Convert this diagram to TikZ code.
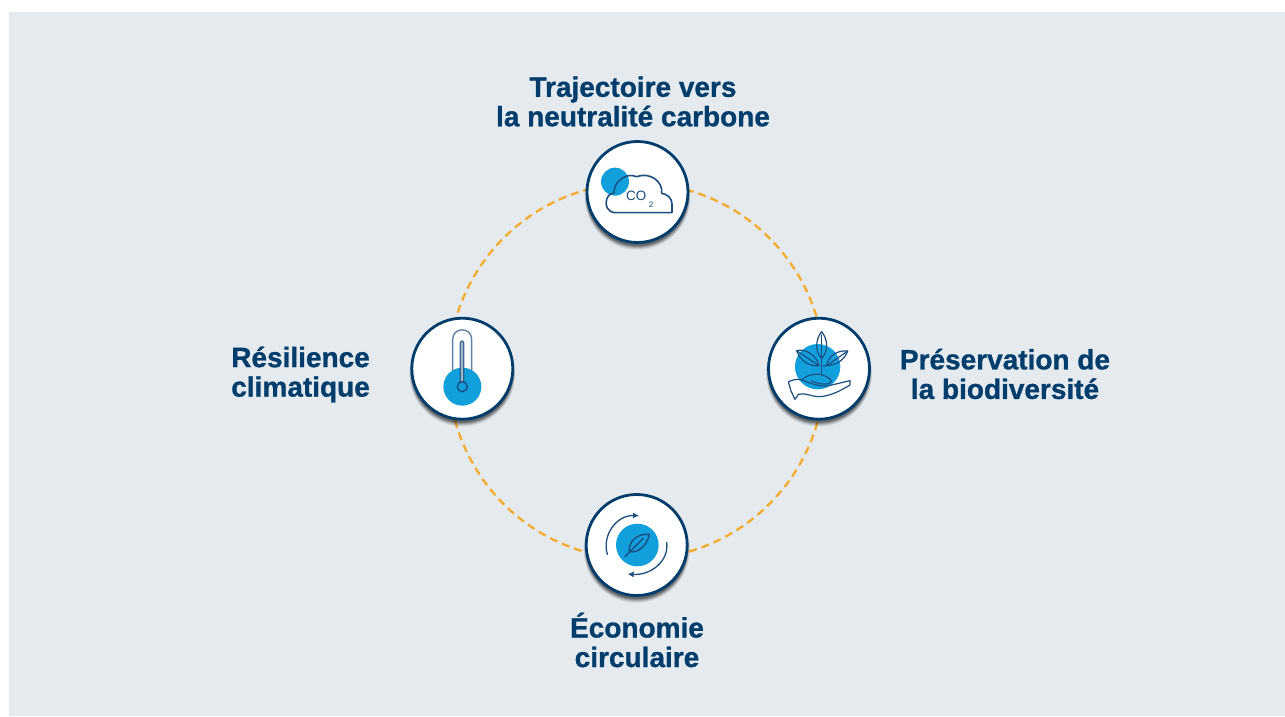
\documentclass[tikz,border=0pt]{standalone}
\usepackage{fontspec}
\setmainfont{Liberation Sans}[BoldFeatures={FakeBold=0.9}]
\usetikzlibrary{arrows.meta}
\definecolor{panelc}{HTML}{E5EAEF}
\definecolor{navy}{HTML}{003C6C}
\definecolor{skyb}{HTML}{12A0DC}
\definecolor{ringc}{HTML}{F5AE33}
\definecolor{inkc}{HTML}{1B4F80}
\tikzset{
  x=1pt,y=-1pt,
  badge/.style={circle,draw=navy,line width=2.8pt,fill=white,minimum size=101pt,inner sep=0pt},
  lbl/.style={font=\fontsize{28}{29.5}\selectfont\bfseries,text=navy,align=center,inner sep=0pt},
  ic/.style={draw=inkc,line width=1.2pt,line join=round,line cap=round},
  ringl/.style={draw=ringc,line width=2.4pt,dash pattern=on 8pt off 5pt},
}
\newcommand{\softshadow}[2]{%
  \foreach \o/\r/\a in {5/53/0.06,4.5/52.5/0.10,4/52/0.14,3.5/51.5/0.18,3/51/0.25}{%
    \fill[black,opacity=\a] (#1,#2+\o) circle[radius=\r];}}
\begin{document}
\begin{tikzpicture}
\useasboundingbox (0,0) rectangle (1285,717);
\fill[white] (0,0) rectangle (1285,717);
\fill[panelc] (9,12) rectangle (1285,716);
\coordinate (ringc0) at (636.5,371);
\draw[ringl] (ringc0) circle[radius=188];
\softshadow{637.5}{192}
\softshadow{819}{368.7}
\softshadow{636.7}{545}
\softshadow{462.3}{368.7}
\node[badge] (top) at (637.5,192) {};
\node[badge] (right) at (819,368.7) {};
\node[badge] (bottom) at (636.7,545) {};
\node[badge] (left) at (462.3,368.7) {};
% CO2 icon
\begin{scope}[shift={(570,130)},x=1/3*1pt,y=-1/3*1pt]
\fill[skyb] (135,155) circle[radius=42];
\draw[ic,line width=1.6pt] (135,248) .. controls (112,246) and (104,225) .. (110,208)
 .. controls (114,196) and (122,190) .. (132,188)
 .. controls (130,160) and (165,125) .. (200,140)
 .. controls (240,125) and (280,155) .. (275,190)
 .. controls (292,192) and (306,205) .. (306,222) -- (306,248) -- cycle;
\node[font=\fontsize{13.5}{13.5}\selectfont,text=inkc,inner sep=0pt] (co) at (199,199) {CO};
\node[font=\fontsize{8}{8}\selectfont,text=inkc,inner sep=0pt] (two) at (243,224) {2};
\end{scope}
% plant in hand icon
\begin{scope}[shift={(755,305)},x=1/3*1pt,y=-1/3*1pt]
\fill[skyb] (188,185) circle[radius=68];
\draw[ic] (200,80) .. controls (180,105) and (180,140) .. (200,160) .. controls (220,140) and (220,105) .. (200,80);
\draw[ic] (200,90) -- (200,205);
\draw[ic] (125,137) .. controls (150,130) and (185,150) .. (192,182) .. controls (160,185) and (135,165) .. (125,137);
\draw[ic] (125,137) -- (192,182);
\draw[ic] (278,138) .. controls (250,135) and (220,150) .. (215,182) .. controls (245,180) and (268,165) .. (278,138);
\draw[ic] (278,138) -- (215,182);
\draw[ic] (205,183) -- (215,182);
\draw[ic] (140,225) .. controls (160,205) and (200,200) .. (225,222) .. controls (238,232) and (220,242) .. (190,235) -- (170,228);
\draw[ic] (100,230) .. controls (115,225) and (125,220) .. (140,225) .. controls (170,235) and (200,250) .. (230,240) -- (285,227) -- (285,240) .. controls (260,255) and (225,275) .. (190,275) .. controls (170,275) and (150,262) .. (130,268) -- (120,283) -- (108,258) -- cycle;
\end{scope}
% circular economy icon
\begin{scope}[shift={(570,485)},x=1/3*1pt,y=-1/3*1pt]
\fill[skyb] (202,180) circle[radius=64];
\draw[ic,line width=1.4pt] (238,148) .. controls (200,145) and (175,170) .. (178,200) .. controls (205,205) and (232,180) .. (238,148) -- cycle;
\draw[ic,line width=1.4pt] (220,160) -- (165,215);
\draw[ic,line width=1.3pt,-{Latex[length=6pt,width=6pt]}] (112,208) .. controls (95,150) and (140,90) .. (207,92);
\draw[ic,line width=1.3pt,-{Latex[length=6pt,width=6pt]}] (290,172) .. controls (298,230) and (240,272) .. (173,267);
\end{scope}
% thermometer icon
\begin{scope}[shift={(400,305)},x=1/3*1pt,y=-1/3*1pt]
\draw[ic,line width=1.4pt,draw opacity=0.7] (158,215) -- (158,103) .. controls (158,65) and (215,65) .. (215,103) -- (215,215);
\fill[skyb] (187,245) circle[radius=57];
\draw[ic,line width=1.4pt,draw opacity=0.8,fill=inkc!35] (181,232) -- (181,115) .. controls (181,106) and (191,106) .. (191,115) -- (191,232);
\draw[ic,line width=1.4pt] (187,245) circle[radius=15];
\end{scope}
% labels
\node[lbl] (t1) at (633,101.5) {Trajectoire vers\\la neutralité carbone};
\node[lbl,align=right,anchor=east] (t2) at (370,374.5) {Résilience\\climatique};
\node[lbl] (t3) at (1005,374) {Préservation de\\la biodiversité};
\node[lbl] (t4) at (637,640) {Économie\\circulaire};
\end{tikzpicture}
\end{document}
